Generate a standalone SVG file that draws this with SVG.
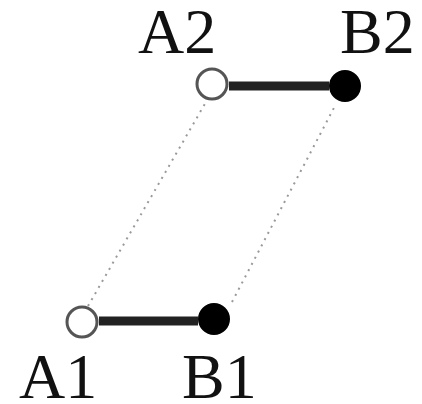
<svg xmlns="http://www.w3.org/2000/svg" width="422" height="404" viewBox="0 0 422 404">
<style>
.lbl{font-family:"Liberation Serif","Times New Roman",serif;font-size:64px;fill:#111}
.bar{stroke:#222;stroke-width:9;fill:none}
.dot{stroke:#999;stroke-width:2;stroke-dasharray:2 5;fill:none}
.open{fill:#fff;stroke:#555;stroke-width:3}
.fill{fill:#000;stroke:#000;stroke-width:2}
</style>
<rect width="422" height="404" fill="#fff"/>
<g id="connectors">
<line class="dot" x1="88" y1="306" x2="206" y2="102"/>
<line class="dot" x1="232" y1="302" x2="336" y2="104"/>
<line class="bar" x1="229" y1="86" x2="329" y2="86"/>
<line class="bar" x1="99" y1="321" x2="198" y2="321"/>
</g>
<g id="A2"><circle class="open" cx="212" cy="84" r="15"/><text class="lbl" x="138" y="53">A2</text></g>
<g id="B2"><circle class="fill" cx="345" cy="86" r="15"/><text class="lbl" x="340" y="53">B2</text></g>
<g id="A1"><circle class="open" cx="82" cy="322" r="15"/><text class="lbl" x="19" y="398">A1</text></g>
<g id="B1"><circle class="fill" cx="214" cy="319" r="15"/><text class="lbl" x="182" y="398">B1</text></g>
</svg>
